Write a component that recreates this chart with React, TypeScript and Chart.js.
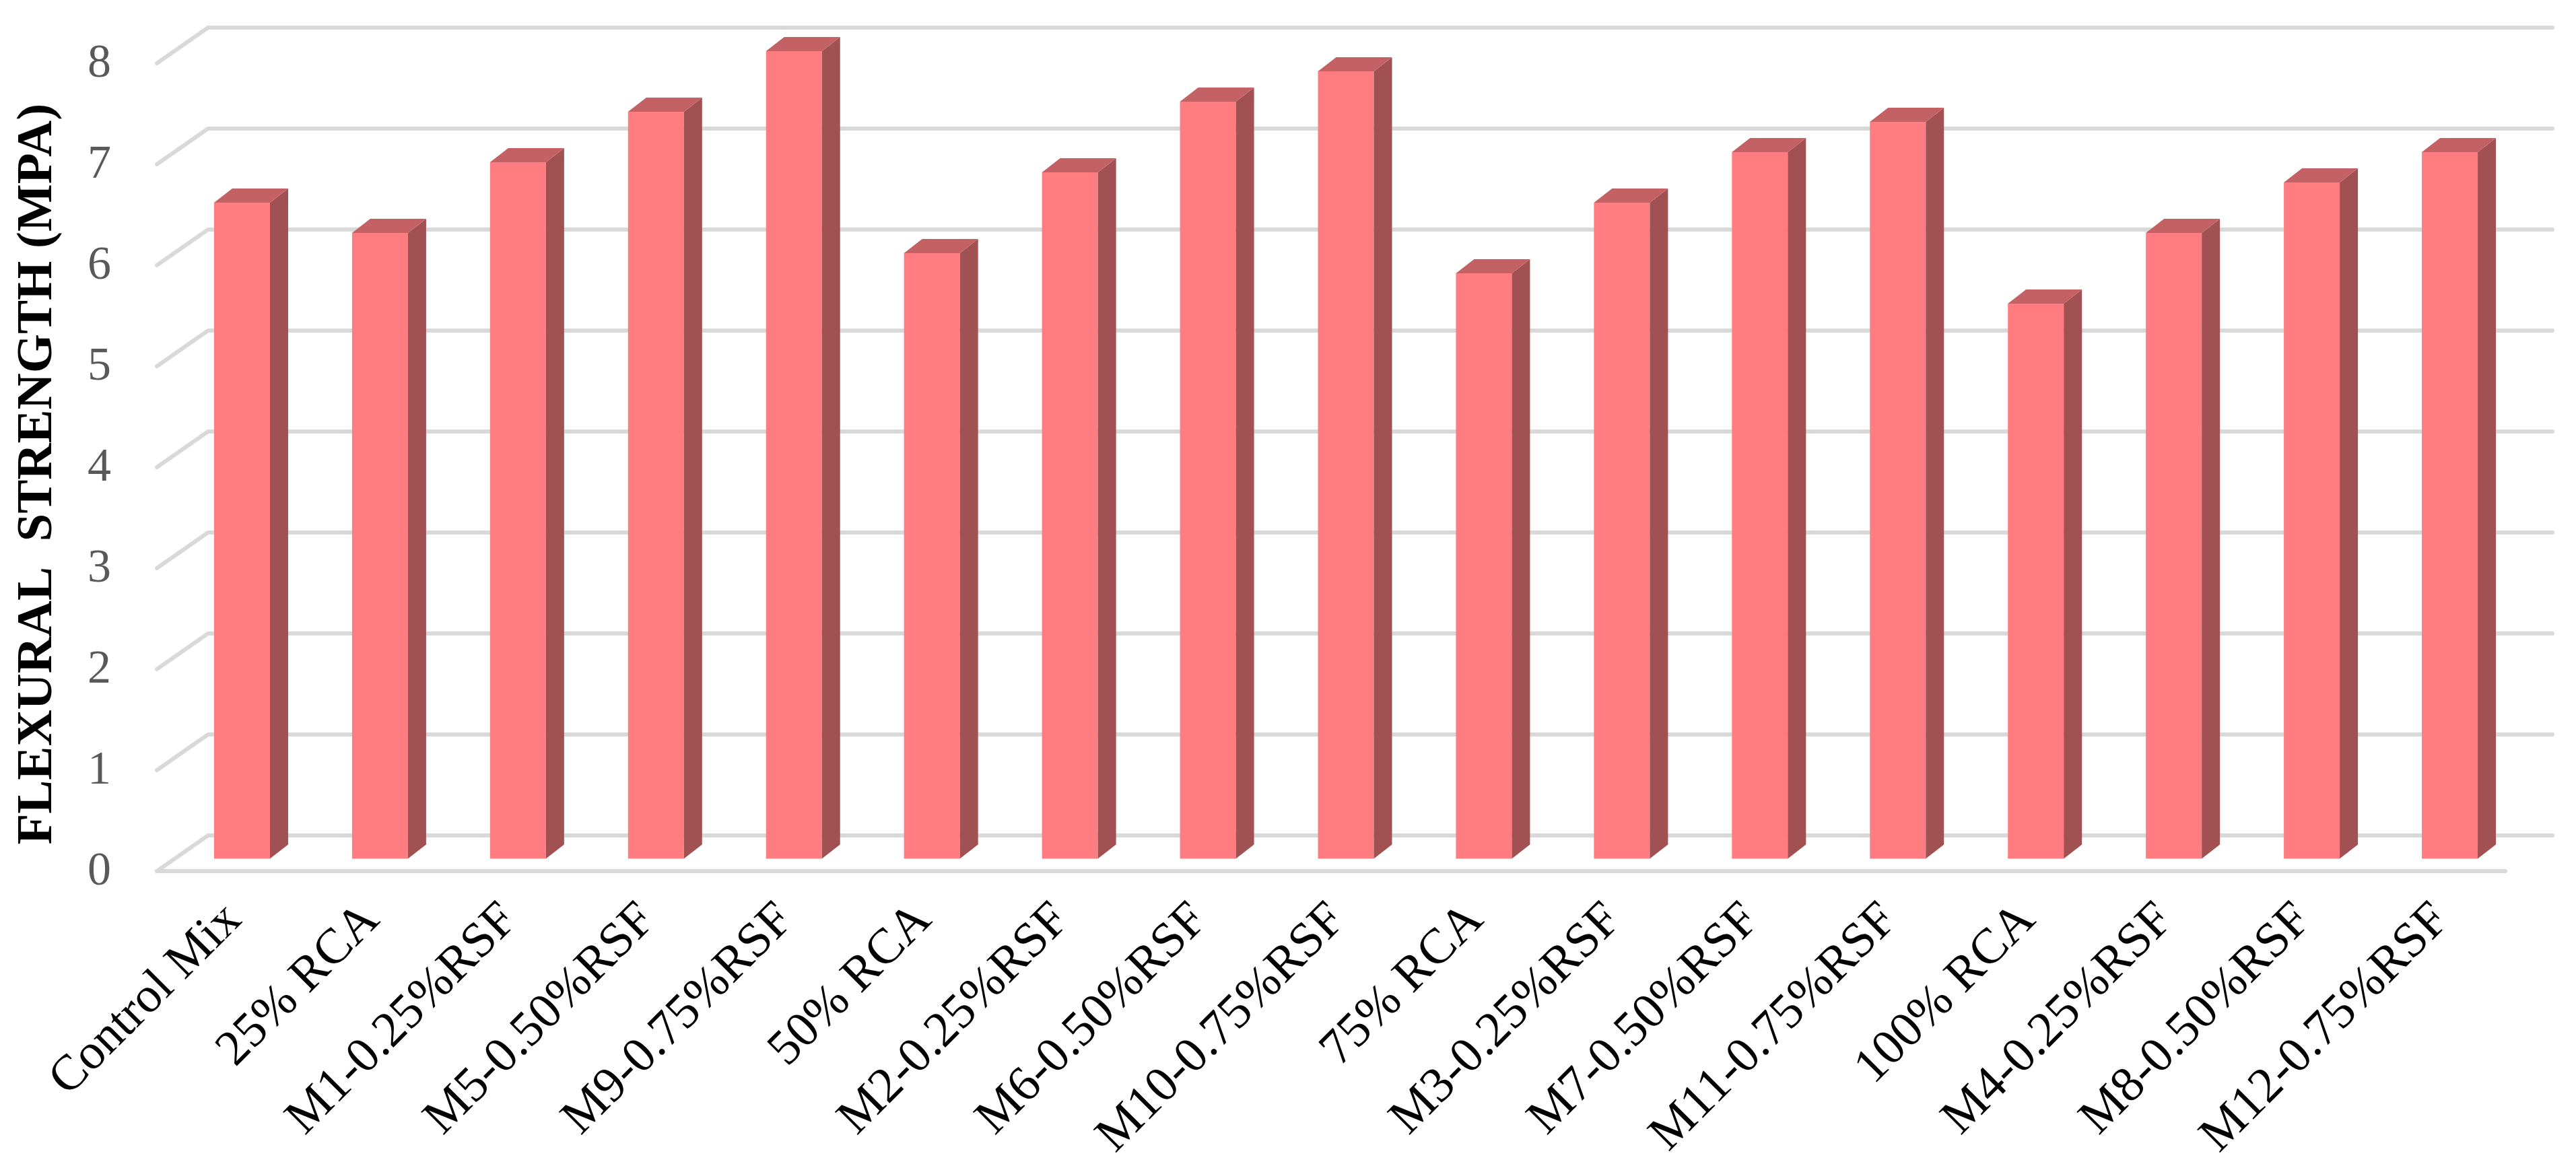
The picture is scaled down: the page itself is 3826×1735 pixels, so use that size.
import React, { useEffect, useRef } from "react";
import { Chart, registerables } from "chart.js";

Chart.register(...registerables);

const categories = [
  "Control Mix",
  "25% RCA",
  "M1-0.25%RSF",
  "M5-0.50%RSF",
  "M9-0.75%RSF",
  "50% RCA",
  "M2-0.25%RSF",
  "M6-0.50%RSF",
  "M10-0.75%RSF",
  "75% RCA",
  "M3-0.25%RSF",
  "M7-0.50%RSF",
  "M11-0.75%RSF",
  "100% RCA",
  "M4-0.25%RSF",
  "M8-0.50%RSF",
  "M12-0.75%RSF",
];
const flexuralStrength = [6.5, 6.2, 6.9, 7.4, 8.0, 6.0, 6.8, 7.5, 7.8, 5.8, 6.5, 7.0, 7.3, 5.5, 6.2, 6.7, 7.0];
const yTickValues = [0, 1, 2, 3, 4, 5, 6, 7, 8];
const yAxisTitle = "FLEXURAL  STRENGTH (MPA)";

const W = 3826;
const H = 1735;

const FRONT = "#FF7C80";
const SIDE = "#A25153";
const TOP = "#C36164";
const GRID = "#D9D9D9";

// 3D depth offsets
const DEPTH_DX = 27;
const DEPTH_DY = -21;

const wallPlugin = {
  id: "wall3d",
  beforeDatasetsDraw(chart: any) {
    const { ctx, chartArea } = chart;
    const ys = chart.scales.y;
    const { left, right } = chartArea;
    ctx.save();
    ctx.strokeStyle = GRID;
    ctx.lineWidth = 6;
    ctx.lineCap = "round";
    ctx.lineJoin = "round";
    yTickValues.forEach((v) => {
      const y = ys.getPixelForValue(v);
      const fy = y + 18;
      const by = y - 35;
      const fx = left - 24;
      const bx = left + 52;
      ctx.beginPath();
      ctx.moveTo(fx, fy);
      ctx.lineTo(bx, by);
      ctx.lineTo(right + 50, by);
      ctx.stroke();
      if (v === 0) {
        ctx.beginPath();
        ctx.moveTo(fx, fy);
        ctx.lineTo(right - 20, fy);
        ctx.stroke();
      }
    });
    ctx.restore();
  },
  afterDatasetsDraw(chart: any) {
    const { ctx } = chart;
    const meta = chart.getDatasetMeta(0);
    ctx.save();
    meta.data.forEach((bar: any) => {
      const { x, y, base, width } = bar.getProps(["x", "y", "base", "width"], true);
      const l = x - width / 2;
      const r = x + width / 2;
      // side face
      ctx.fillStyle = SIDE;
      ctx.beginPath();
      ctx.moveTo(r, y);
      ctx.lineTo(r + DEPTH_DX, y + DEPTH_DY);
      ctx.lineTo(r + DEPTH_DX, base + DEPTH_DY);
      ctx.lineTo(r, base);
      ctx.closePath();
      ctx.fill();
      // top face
      ctx.fillStyle = TOP;
      ctx.beginPath();
      ctx.moveTo(l, y);
      ctx.lineTo(l + DEPTH_DX, y + DEPTH_DY);
      ctx.lineTo(r + DEPTH_DX, y + DEPTH_DY);
      ctx.lineTo(r, y);
      ctx.closePath();
      ctx.fill();
    });
    ctx.restore();
  },
};

export default function App() {
  const ref = useRef<HTMLCanvasElement | null>(null);

  useEffect(() => {
    document.body.style.margin = "0";
    document.body.style.overflow = "hidden";
    const canvas = ref.current;
    if (!canvas) return;
    const chart = new Chart(canvas, {
      type: "bar",
      data: {
        labels: categories,
        datasets: [
          {
            data: flexuralStrength,
            backgroundColor: FRONT,
            borderWidth: 0,
            categoryPercentage: 1,
            barPercentage: 0.405,
          },
        ],
      },
      plugins: [wallPlugin],
      options: {
        animation: false,
        responsive: false,
        maintainAspectRatio: false,
        devicePixelRatio: 1,
        layout: { padding: { left: 0, top: 76, right: 85, bottom: 0 } },
        plugins: {
          legend: { display: false },
          tooltip: { enabled: false },
          title: { display: false },
        },
        scales: {
          x: {
            offset: true,
            grid: { display: false, drawTicks: false },
            border: { display: false },
            ticks: {
              autoSkip: false,
              minRotation: 45,
              maxRotation: 45,
              padding: 48,
              labelOffset: -12,
              color: "#000000",
              font: { family: "'Liberation Serif', serif", size: 74 },
            },
            afterFit: (scale: any) => {
              scale.height = 459;
            },
          },
          y: {
            min: 0,
            max: 8,
            grid: {
              display: true,
              drawOnChartArea: false,
              drawTicks: true,
              tickLength: 92,
              tickColor: "rgba(0,0,0,0)",
              color: "rgba(0,0,0,0)",
            },
            border: { display: false },
            ticks: {
              stepSize: 1,
              padding: 0,
              labelOffset: 20,
              color: "#595959",
              font: { family: "'Liberation Serif', serif", size: 70 },
            },
            title: {
              display: true,
              text: yAxisTitle + "   ",
              color: "#000000",
              padding: { top: 12, bottom: 0 },
              font: { family: "'Liberation Serif', serif", size: 75, weight: "bold" },
            },
            afterFit: (scale: any) => {
              scale.width = 257;
            },
          },
        },
      },
    } as any);
    return () => chart.destroy();
  }, []);

  return <canvas ref={ref} width={W} height={H} style={{ display: "block" }} />;
}
